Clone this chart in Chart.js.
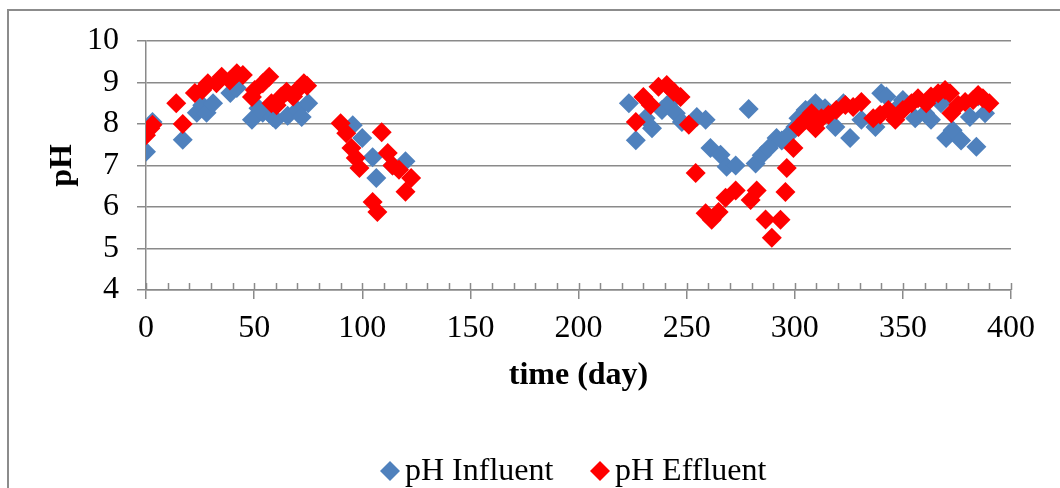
<!DOCTYPE html>
<html>
<head>
<meta charset="utf-8">
<script src="https://cdn.jsdelivr.net/npm/chart.js@4.4.0/dist/chart.umd.min.js"></script>
<style>
  html, body { margin: 0; padding: 0; background: #fff; overflow: hidden; }
  #wrap { position: relative; width: 1060px; height: 488px; }
  #frame { position: absolute; left: 7px; top: 9px; width: 1100px; height: 600px;
           border-left: 2px solid #8c8c8c; border-top: 2px solid #8c8c8c; }
  #chart { position: absolute; left: 0; top: 0; }
</style>
</head>
<body>
<div id="wrap">
  <div id="frame"></div>
  <canvas id="chart" width="1060" height="488"></canvas>
</div>
<script>
// values: day, pH
const influentDay = [0, 3, 17, 23.5, 26, 28, 31, 39, 42, 49, 52, 54, 58.6, 60, 65.5, 70, 72, 75,
  95.6, 100, 104.8, 106.5, 114, 120,
  223.3, 226.5, 231, 234, 238.6, 241.8, 245, 247.8, 254.7, 258.8, 261, 265.7, 268.5, 272.7,
  278.7, 281.9, 284.7, 288, 291.6, 294, 297, 300.3, 301.7, 305, 309.6, 314, 318.8, 322.5,
  325.6, 330.8, 337.3, 340, 342.4, 346.5, 350, 355.7, 360.3, 363, 367.7, 370, 373, 376.9,
  381, 384, 384.8, 388];
const influentPH = [7.33, 8.05, 7.62, 8.27, 8.45, 8.27, 8.5, 8.75, 8.87, 8.1, 8.38, 8.27, 8.17, 8.1, 8.2, 8.34, 8.17, 8.5,
  7.97, 7.66, 7.2, 6.7, 7.0, 7.1,
  8.5, 7.61, 8.14, 7.9, 8.34, 8.5, 8.26, 8.05, 8.17, 8.1, 7.42, 7.26, 6.97, 7.0,
  8.36, 7.05, 7.25, 7.42, 7.66, 7.6, 7.73, 7.93, 8.14, 8.34, 8.5, 8.38, 7.93, 8.5,
  7.66, 8.1, 7.93, 8.74, 8.66, 8.34, 8.58, 8.14, 8.26, 8.1, 8.5, 7.66, 7.85, 7.6,
  8.17, 7.45, 8.66, 8.26];

const effluentDay = [0, 2, 3, 14, 17, 22.6, 26, 28.6, 32.6, 35, 38.8, 42, 44.8, 49, 50.3, 54, 57, 58,
  60.4, 62.6, 65, 68, 70, 73, 74.5,
  90, 92.6, 95, 97, 98.7, 104.8, 107, 109, 111.8, 114, 117, 120, 122.6,
  226.5, 230, 233.4, 237, 240.8, 244, 247.2, 251, 254.2, 258.8, 261.6, 264.8, 268, 272.7,
  279.6, 282.4, 286.5, 289.4, 293.4, 295.7, 296.3, 299.4, 301.7, 305, 307.8, 309.6, 312.3,
  315.6, 319.2, 323.4, 327, 330.8, 336.3, 339.5, 343.3, 346.5, 350, 354, 357, 360.8, 363,
  366.3, 369.5, 371.8, 372.4, 375.6, 378.8, 382.5, 384.8, 387, 390];
const effluentPH = [7.73, 7.9, 7.98, 8.5, 8.0, 8.75, 8.82, 8.98, 8.98, 9.14, 9.05, 9.22, 9.18, 8.65, 8.82, 8.98, 9.14, 8.5,
  8.45, 8.66, 8.78, 8.66, 8.82, 8.98, 8.92,
  8.02, 7.78, 7.42, 7.18, 6.94, 6.12, 5.88, 7.8, 7.3, 7.0, 6.9, 6.37, 6.7,
  8.05, 8.65, 8.46, 8.9, 8.94, 8.78, 8.65, 7.98, 6.82, 5.85, 5.69, 5.88, 6.22, 6.4,
  6.17, 6.4, 5.7, 5.26, 5.69, 6.36, 6.94, 7.42, 7.93, 8.1, 8.26, 7.9, 8.14,
  8.22, 8.34, 8.46, 8.41, 8.53, 8.14, 8.22, 8.34, 8.1, 8.34, 8.5, 8.62, 8.5, 8.66,
  8.74, 8.82, 8.74, 8.26, 8.46, 8.53, 8.58, 8.7, 8.62, 8.5];

const seriesNames = ['pH Influent', 'pH Effluent'];
const seriesColors = ['#4f81bd', '#ff0000'];

const xMin = 0, xMax = 400, xStep = 50, xMinorStep = 10;
const yMin = 4, yMax = 10, yStep = 1;

const FONT = "'Liberation Serif', 'Times New Roman', serif";
const GRID = '#8a8a8a';

function toPoints(xs, ys) {
  return xs.map((x, i) => ({ x: x, y: ys[i] }));
}

// small upward ticks every 10 days along the x axis
const minorTicks = {
  id: 'minorTicks',
  afterDraw(chart) {
    const ctx = chart.ctx;
    const xs = chart.scales.x;
    const bottom = chart.chartArea.bottom;
    ctx.save();
    ctx.strokeStyle = GRID;
    ctx.lineWidth = 1.5;
    for (let v = xMin; v <= xMax; v += xMinorStep) {
      const px = Math.round(xs.getPixelForValue(v)) + 0.5;
      ctx.beginPath();
      ctx.moveTo(px, bottom - 7);
      ctx.lineTo(px, bottom);
      ctx.stroke();
    }
    ctx.restore();
  }
};

// legend laid out like the excel one (offset right of center)
const sideLegend = {
  id: 'sideLegend',
  afterDraw(chart) {
    const ctx = chart.ctx;
    const spots = [390, 600];
    const y = 471;
    ctx.save();
    ctx.font = '32px ' + FONT;
    ctx.textBaseline = 'middle';
    seriesNames.forEach((name, i) => {
      const cx = spots[i], r = 10;
      ctx.fillStyle = seriesColors[i];
      ctx.beginPath();
      ctx.moveTo(cx, y - r);
      ctx.lineTo(cx + r, y);
      ctx.lineTo(cx, y + r);
      ctx.lineTo(cx - r, y);
      ctx.closePath();
      ctx.fill();
      ctx.fillStyle = '#000';
      ctx.fillText(name, cx + 15, y + 1);
    });
    ctx.restore();
  }
};

const chart = new Chart(document.getElementById('chart'), {
  type: 'scatter',
  data: {
    datasets: [
      {
        label: seriesNames[0],
        data: toPoints(influentDay, influentPH),
        backgroundColor: seriesColors[0],
        borderWidth: 0,
        pointStyle: 'rectRot',
        pointRadius: 10,
        order: 1
      },
      {
        label: seriesNames[1],
        data: toPoints(effluentDay, effluentPH),
        backgroundColor: seriesColors[1],
        borderWidth: 0,
        pointStyle: 'rectRot',
        pointRadius: 10,
        order: 0
      }
    ]
  },
  options: {
    responsive: false,
    animation: false,
    layout: { padding: { left: 44, top: 41, right: 49, bottom: 93 } },
    plugins: {
      legend: { display: false },
      tooltip: { enabled: false }
    },
    scales: {
      x: {
        type: 'linear',
        min: xMin, max: xMax,
        afterFit: (s) => { s.height = 105; },
        ticks: { stepSize: xStep, color: '#000', padding: 10, font: { family: FONT, size: 32 } },
        grid: { drawOnChartArea: false, drawTicks: true, tickLength: 9, color: GRID, lineWidth: 1.5 },
        border: { color: GRID, width: 1.5 },
        title: { display: true, text: 'time (day)', color: '#000', padding: 0,
                 font: { family: FONT, size: 32, weight: 'bold' } }
      },
      y: {
        min: yMin, max: yMax,
        afterFit: (s) => { s.width = 102; },
        ticks: { stepSize: yStep, color: '#000', padding: 18, font: { family: FONT, size: 32 } },
        grid: { color: GRID, lineWidth: 1.5, tickLength: 9 },
        border: { color: GRID, width: 1.5 },
        title: { display: true, text: 'pH', color: '#000', padding: 0,
                 font: { family: FONT, size: 32, weight: 'bold' } }
      }
    }
  },
  plugins: [minorTicks, sideLegend]
});
</script>
</body>
</html>
